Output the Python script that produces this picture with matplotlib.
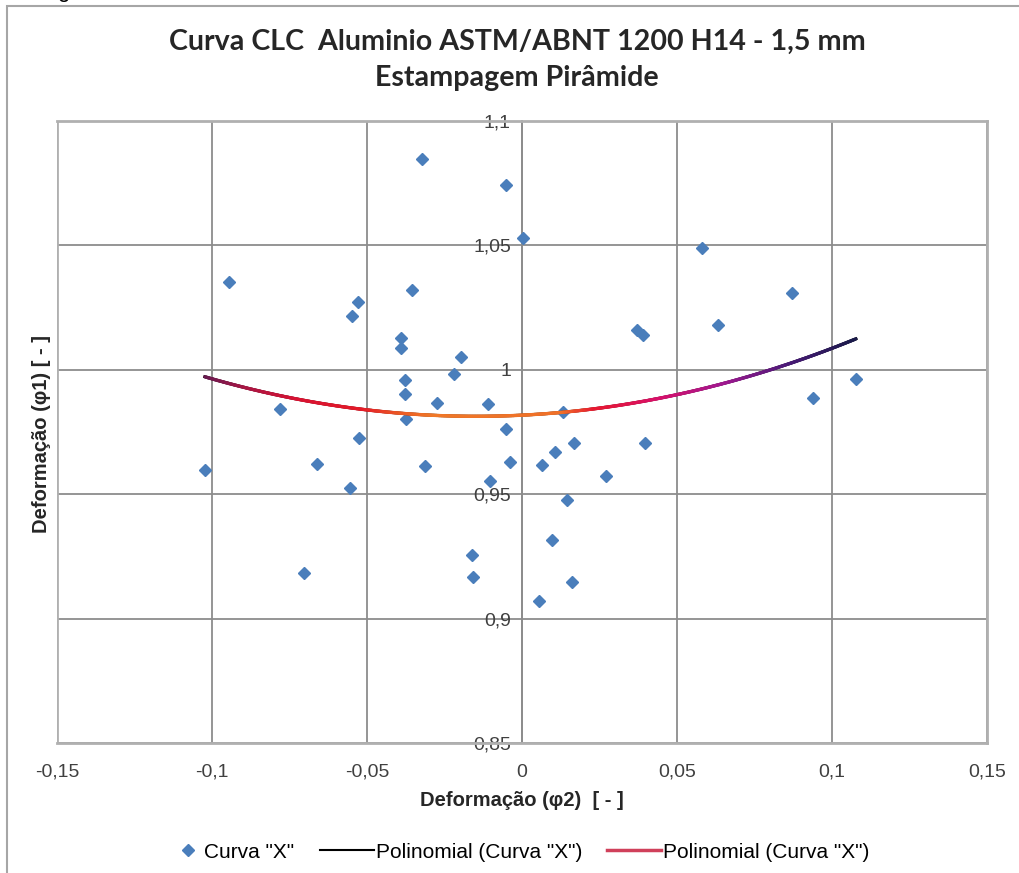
import numpy as np
import matplotlib
matplotlib.use('Agg')
from matplotlib import pyplot
from matplotlib.collections import LineCollection
from matplotlib.colors import LinearSegmentedColormap
from matplotlib.lines import Line2D
from matplotlib.patches import Rectangle
from matplotlib.legend_handler import HandlerLine2D
import matplotlib.ticker as ticker

# deformação phi2 (x) e phi1 (y)
phi2 = [-0.1023, -0.0945, -0.0780, -0.0703, -0.0661, -0.0555, -0.0548, -0.0529, -0.0526,
        -0.0390, -0.0390, -0.0377, -0.0377, -0.0374, -0.0355, -0.0323, -0.0313, -0.0274,
        -0.0220, -0.0197, -0.0161, -0.0158, -0.0110, -0.0103, -0.0052, -0.0052, -0.0039,
        0.0003, 0.0055, 0.0065, 0.0097, 0.0106, 0.0132, 0.0145, 0.0161, 0.0168, 0.0271,
        0.0371, 0.0390, 0.0397, 0.0581, 0.0632, 0.0871, 0.0939, 0.1077]
phi1 = [0.9597, 1.0353, 0.9843, 0.9183, 0.9621, 0.9525, 1.0216, 1.0273, 0.9726,
        1.0128, 1.0088, 0.9959, 0.9903, 0.9802, 1.0321, 1.0847, 0.9613, 0.9867,
        0.9983, 1.0051, 0.9256, 0.9167, 0.9863, 0.9553, 1.0743, 0.9762, 0.9629,
        1.0530, 0.9071, 0.9617, 0.9316, 0.9670, 0.9830, 0.9477, 0.9147, 0.9706, 0.9573,
        1.0160, 1.0140, 0.9706, 1.0490, 1.0180, 1.0309, 0.9887, 0.9963]

xticks = [-0.15, -0.1, -0.05, 0, 0.05, 0.1, 0.15]
yticks = [0.85, 0.9, 0.95, 1.0, 1.05, 1.1]

def virgula(v, pos):
    s = ('%.2f' % v).rstrip('0').rstrip('.')
    if s == '-0':
        s = '0'
    return s.replace('.', ',')

# marcador da legenda encostado no texto
class MarcadorDireita(HandlerLine2D):
    def get_xdata(self, legend, xdescent, ydescent, width, height, fontsize):
        m = -xdescent + width - 0.7 * fontsize
        return [m - 1, m + 1], [m]

W, H = 1020, 873
fig = pyplot.figure(figsize=(W / 100, H / 100), dpi=100)
ax = fig.add_axes([57 / W, 1 - 743 / H, 930 / W, 622 / H])

# borda externa do gráfico
fig.patches.append(Rectangle((7 / W, -0.05), 1.1, 1 - 6 / H + 0.05, transform=fig.transFigure,
                             fill=False, edgecolor='#a6a6a6', linewidth=1.5))
fig.text(63 / W, 1 + 3 / H, 'g', ha='center', va='baseline', fontsize=16, family='Liberation Sans')

ax.set_xlim(-0.15, 0.15)
ax.set_ylim(0.85, 1.1)
ax.xaxis.set_major_locator(ticker.FixedLocator(xticks))
ax.yaxis.set_major_locator(ticker.FixedLocator(yticks))
ax.xaxis.set_major_formatter(ticker.FuncFormatter(virgula))
ax.yaxis.set_major_formatter(ticker.FuncFormatter(virgula))

for side in ['top', 'right', 'bottom']:
    ax.spines[side].set_color('#b0b0b0')
    ax.spines[side].set_linewidth(2)
ax.spines['left'].set_position(('data', 0))
ax.spines['left'].set_color('#8c8c8c')
ax.spines['left'].set_linewidth(1.3)
ax.axvline(-0.15, color='#b0b0b0', linewidth=2, zorder=1)
ax.grid(which='major', color='#8c8c8c', linewidth=1.3)
ax.set_axisbelow(True)

ax.tick_params(axis='both', length=0, labelsize=14, labelcolor='#404040')
ax.tick_params(axis='x', pad=15)
ax.tick_params(axis='y', pad=8)
for lab in ax.get_xticklabels() + ax.get_yticklabels():
    lab.set_family('Liberation Sans')

# pontos
ax.plot(phi2, phi1, linestyle='none', marker='D', markersize=6.5, color='#4a7ebb',
        markeredgecolor='#4a7ebb', zorder=3)

# linha de tendência polinomial (grau 2)
coef = np.polyfit(phi2, phi1, 2)
xs = np.linspace(min(phi2), max(phi2), 400)
ys = np.polyval(coef, xs)
ax.plot(xs, ys, color='black', linewidth=2.2, zorder=4)

grad = LinearSegmentedColormap.from_list('grad', [
    (0.0, '#6a1a50'), (0.06, '#a81644'), (0.14, '#d81232'), (0.24, '#e41a28'),
    (0.30, '#ec5a24'), (0.35, '#f07828'), (0.55, '#f07028'), (0.6, '#e81830'),
    (0.7, '#d8106a'), (0.8, '#a01890'), (0.9, '#4a1a78'), (1.0, '#1a1a4a')])
pts = np.column_stack([xs, ys]).reshape(-1, 1, 2)
segs = np.concatenate([pts[:-1], pts[1:]], axis=1)
lc = LineCollection(segs, cmap=grad, linewidth=2.4, zorder=5, capstyle='round')
lc.set_array(np.linspace(0, 1, len(segs)))
ax.add_collection(lc)

fig.text(517 / W, 1 - 42 / H, 'Curva CLC  Aluminio ASTM/ABNT 1200 H14 - 1,5 mm',
         ha='center', va='center', fontsize=20.6, fontweight='bold', family='Lato', color='#262626')
fig.text(517 / W, 1 - 78 / H, 'Estampagem Pirâmide',
         ha='center', va='center', fontsize=20.6, fontweight='bold', family='Lato', color='#262626')
fig.text(522 / W, 1 - 801 / H, 'Deformação (φ2)  [ - ]', ha='center', va='center',
         fontsize=14.5, fontweight='bold', family='Liberation Sans', color='#262626')
fig.text(42 / W, 1 - 434 / H, 'Deformação (φ1) [ - ]', ha='center', va='center', rotation=90,
         fontsize=14.5, fontweight='bold', family='Liberation Sans', color='#262626')

marcador = Line2D([], [], linestyle='none', marker='D', markersize=6.5, color='#4a7ebb')
handles = [marcador,
           Line2D([], [], color='black', linewidth=1.5),
           Line2D([], [], color='#d0405a', linewidth=2.5)]
labels = ['Curva "X"', 'Polinomial (Curva "X")', 'Polinomial (Curva "X")']
fig.legend(handles, labels, loc='center', bbox_to_anchor=(509 / W, 1 - 852 / H), ncol=3,
           frameon=False, handlelength=2.6, handletextpad=0.1, columnspacing=1.2,
           handler_map={marcador: MarcadorDireita(numpoints=1)},
           prop={'family': 'Liberation Sans', 'size': 15})

fig.savefig('out.png', dpi=100)
